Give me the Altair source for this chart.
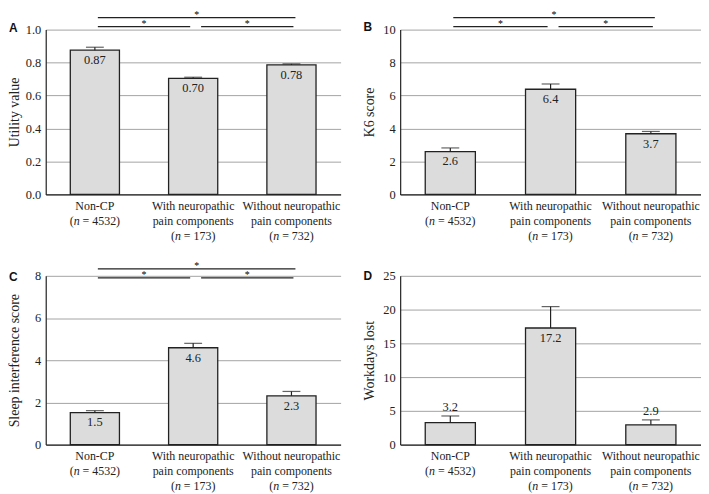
import altair as alt
import pandas as pd

# ---------------- data ----------------
categories = ["Non-CP", "With neuropathic pain components", "Without neuropathic pain components"]
label_lines = [["Non-CP"], ["With neuropathic", "pain components"], ["Without neuropathic", "pain components"]]
group_n = [4532, 173, 732]

utility_mean = [0.875, 0.704, 0.786]
utility_err = [0.018, 0.007, 0.006]
utility_text = ["0.87", "0.70", "0.78"]

k6_mean = [2.60, 6.38, 3.68]
k6_err = [0.22, 0.32, 0.14]
k6_text = ["2.6", "6.4", "3.7"]

sleep_mean = [1.52, 4.59, 2.31]
sleep_err = [0.09, 0.21, 0.21]
sleep_text = ["1.5", "4.6", "2.3"]

work_mean = [3.27, 17.27, 2.93]
work_err = [0.97, 3.17, 0.73]
work_text = ["3.2", "17.2", "2.9"]
work_label_above = [True, False, True]

sig_pairs = [(0, 1), (1, 2), (0, 2)]

# ---------------- style ----------------
SERIF = "Liberation Serif"
SANS = "Liberation Sans"
INK = "#222222"
GRID = "#a3a3a3"
LAB_FS = 12


def X(field):
    return alt.X(
        f"{field}:N",
        sort=categories,
        scale=alt.Scale(paddingInner=0.5, paddingOuter=0.25),
        axis=alt.Axis(labels=False, ticks=False, title=None, grid=False,
                      domainColor=INK, domainWidth=1.2),
    )


def text_width(s, fs):
    w = {"(": 0.333, ")": 0.333, " ": 0.25, "=": 0.564}
    return sum(w.get(c, 0.5) for c in s) * fs


def panel(letter, ytitle, means, errs, texts, ymax, ticks, fmt, W, H,
          brackets=None, label_above=None, letter_y=-2):
    df = pd.DataFrame({
        "cat": categories,
        "mean": means,
        "upper": [m + e for m, e in zip(means, errs)],
        "txt": texts,
        "above": label_above if label_above else [False] * 3,
    })

    def Y(field):
        return alt.Y(
            f"{field}:Q",
            scale=alt.Scale(domain=[0, ymax], nice=False, zero=True),
            axis=alt.Axis(values=ticks, format=fmt, title=ytitle, grid=True,
                          gridColor=GRID, gridWidth=1, ticks=False,
                          domainColor=INK, domainWidth=1.2,
                          labelFont=SERIF, labelFontSize=12.5, labelColor=INK,
                          labelPadding=5, titleFont=SERIF, titleFontSize=14,
                          titleFontWeight="normal", titleColor=INK, titleX=-24),
        )

    base = alt.Chart(df)
    bars = base.mark_bar(fill="#dcdcdc", stroke=INK, strokeWidth=1.3).encode(
        x=X("cat"), y=Y("mean"))
    err = base.mark_rule(color=INK, strokeWidth=1.2).encode(
        x=X("cat"), y=Y("mean"), y2="upper:Q")
    cap = base.mark_tick(color=INK, thickness=1.2, size=18, orient="horizontal").encode(
        x=X("cat"), y=Y("upper"))
    lab_in = base.transform_filter("!datum.above").mark_text(
        font=SERIF, fontSize=12.5, color=INK, baseline="middle", dy=10).encode(
        x=X("cat"), y=Y("mean"), text="txt:N")
    layers = [bars, err, cap, lab_in]
    if label_above:
        lab_out = base.transform_filter("datum.above").mark_text(
            font=SERIF, fontSize=12.5, color=INK, baseline="middle", dy=-9).encode(
            x=X("cat"), y=Y("upper"), text="txt:N")
        layers.append(lab_out)

    # category labels (below the axis)
    line_y = [H + 11.5, H + 27, H + 41.5]
    rows = []
    for cat, lines in zip(categories, label_lines):
        for j, t in enumerate(lines):
            rows.append({"cat": cat, "line": j, "t": t})
    ldf = pd.DataFrame(rows)
    for j in range(2):
        layers.append(alt.Chart(ldf[ldf.line == j]).mark_text(
            font=SERIF, fontSize=LAB_FS, color=INK, baseline="middle").encode(
            x=X("cat"), y=alt.value(line_y[j]), text="t:N"))
    for cat, lines, n in zip(categories, label_lines, group_n):
        j = len(lines)
        rest = f"= {n})"
        total = text_width("(n " + rest, LAB_FS)
        x0 = -total / 2
        pieces = [
            ("(", x0, "normal"),
            ("n", x0 + text_width("(", LAB_FS), "italic"),
            (rest, x0 + text_width("(n ", LAB_FS), "normal"),
        ]
        for txt, dx, style in pieces:
            layers.append(alt.Chart(pd.DataFrame({"cat": [cat], "t": [txt]})).mark_text(
                font=SERIF, fontSize=LAB_FS, fontStyle=style, color=INK,
                align="left", baseline="middle", dx=dx).encode(
                x=X("cat"), y=alt.value(line_y[j]), text="t:N"))

    # significance brackets
    if brackets:
        step = W / 3.0
        y_low, y_top = brackets
        specs = {
            (0, 1): (y_low, 3, -3, step / 2),
            (1, 2): (y_low, 8, 2, step / 2 + 5),
            (0, 2): (y_top, 3, 4, None),
        }
        for (a, b) in sig_pairs:
            yv, o1, o2, sdx = specs[(a, b)]
            bdf = pd.DataFrame({"a": [categories[a]], "b": [categories[b]],
                                "m": [categories[1]], "s": ["*"]})
            layers.append(alt.Chart(bdf).mark_rule(
                color=INK, strokeWidth=1.2, xOffset=o1, x2Offset=o2).encode(
                x=X("a"), x2=alt.X2("b:N"), y=alt.value(yv)))
            if sdx is None:
                star = alt.Chart(bdf).mark_text(
                    font=SERIF, fontSize=10, color="#000", baseline="alphabetic",
                    dx=3.5).encode(x=X("m"), y=alt.value(yv), text="s:N")
            else:
                star = alt.Chart(bdf).mark_text(
                    font=SERIF, fontSize=10, color="#000", baseline="alphabetic",
                    dx=sdx).encode(x=X("a"), y=alt.value(yv), text="s:N")
            layers.append(star)

    # panel letter
    layers.append(alt.Chart(pd.DataFrame({"t": [letter]})).mark_text(
        font=SANS, fontSize=12, fontWeight="bold", color="#111",
        align="left", baseline="middle").encode(
        x=alt.value(-37), y=alt.value(letter_y), text="t:N"))

    return alt.layer(*layers).properties(width=W, height=H)


W1, W2 = 297, 303
H1, H2 = 166, 170

pA = panel("A", "Utility value", utility_mean, utility_err, utility_text,
           1.0, [0, 0.2, 0.4, 0.6, 0.8, 1.0], ".1f", W1, H1, brackets=(-3, -12))
pB = panel("B", "K6 score", k6_mean, k6_err, k6_text,
           10, [0, 2, 4, 6, 8, 10], "d", W2, H1, brackets=(-3, -12), letter_y=-3)
pC = panel("C", "Sleep interference score", sleep_mean, sleep_err, sleep_text,
           8, [0, 2, 4, 6, 8], "d", W1, H2, brackets=(2, -7), letter_y=1)
pD = panel("D", "Workdays lost", work_mean, work_err, work_text,
           25, [0, 5, 10, 15, 20, 25], "d", W2, H2,
           label_above=work_label_above, letter_y=0)

chart = alt.concat(
    pA, pB, pC, pD, columns=2,
    spacing={"row": 82, "column": 60}, bounds="flush",
).properties(padding=0, background="white").configure(
    font=SERIF
).configure_axis(
    labelFont=SERIF, titleFont=SERIF
).configure_text(font=SERIF).configure_view(stroke=None)

chart.save("out.html", embed_options={"renderer": "svg", "actions": False})
